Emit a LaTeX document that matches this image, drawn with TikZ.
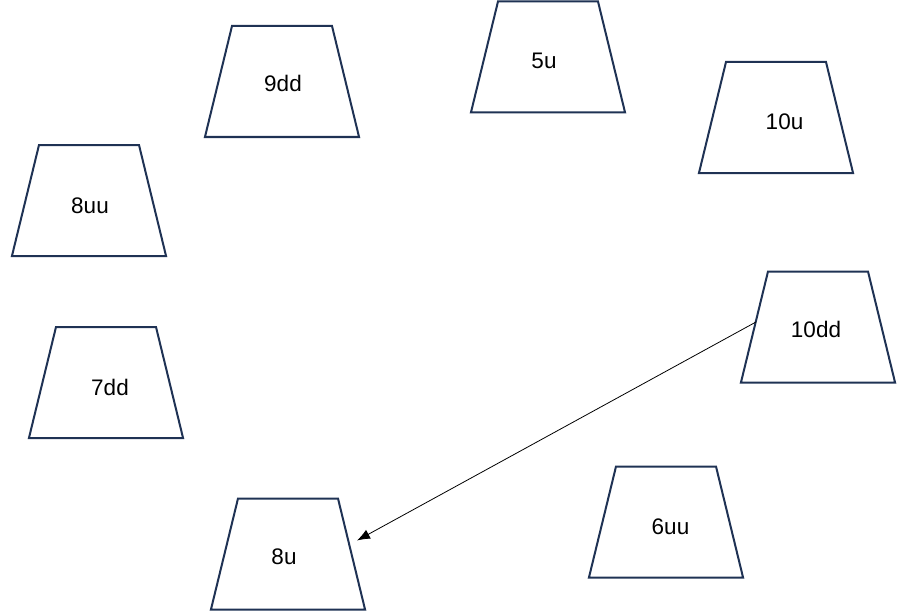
\documentclass[tikz,border=0pt]{standalone}
\usepackage{fontspec}
\setmainfont{Liberation Sans}
\usetikzlibrary{shapes.geometric,arrows.meta}
\definecolor{navy}{RGB}{31,50,84}
\tikzset{
	blok/.style={trapezium,draw=navy,line width=2pt,trapezium left angle=76.3,trapezium right angle=76.3,
		inner xsep=50pt,inner ysep=55.5pt,outer sep=0pt},
	etiket/.style={font=\fontsize{22.5}{27}\selectfont,inner sep=0pt}
}

\begin{document}
\begin{tikzpicture}[x=1pt,y=-1pt]
		\useasboundingbox(0,0)rectangle(915,615);
		\node[blok](b9dd)at(282,81.5){};
		\node[blok](b5u)at(548,57){};
		\node[blok](b10u)at(776,117.5){};
		\node[blok](b8uu)at(89,200.5){};
		\node[blok](b10dd)at(818,327){};
		\node[blok](b7dd)at(106,382.5){};
		\node[blok](b6uu)at(666,522){};
		\node[blok](b8u)at(288,554){};
		\node[etiket](t9dd)at(283,83){9dd};
		\node[etiket](t5u)at(544,61){5u};
		\node[etiket](t10u)at(784.5,121.5){10u};
		\node[etiket](t8uu)at(90,206){8uu};
		\node[etiket](t10dd)at(816,329.5){10dd};
		\node[etiket](t7dd)at(110,387){7dd};
		\node[etiket](t6uu)at(670.5,527){6uu};
		\node[etiket](t8u)at(284,557){8u};
		\coordinate(hedef)at(357,540.5);
		\draw[-{Latex[length=13pt,width=10pt]},line width=0.8pt]([xshift=1.5pt,yshift=5pt]b10dd.west)--(hedef);
		\end{tikzpicture}
\end{document}
